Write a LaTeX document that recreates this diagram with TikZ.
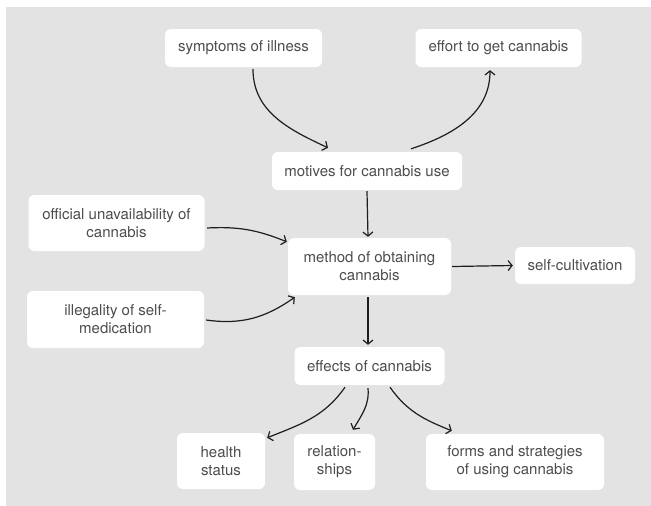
\documentclass[tikz,border=0pt]{standalone}
\usepackage{fontspec}
\setmainfont{TeX Gyre Heros}
\usepackage{xcolor}
\usepackage{tikz}
\usetikzlibrary{positioning, arrows.meta, calc}
\definecolor{canvasgray}{HTML}{E3E3E3}
\definecolor{labelgray}{HTML}{4D4D4D}
\definecolor{linkblack}{HTML}{1E1E1E}

\begin{document}
\begin{tikzpicture}[
    x=1pt, y=1pt,
    box/.style={fill=white, rounded corners=6pt, align=center, inner sep=2pt,
                font=\fontsize{15}{18}\selectfont, text=labelgray},
    arr/.style={-{Straight Barb[length=4pt,width=10pt]}, line width=1.2pt, draw=linkblack},
]
\useasboundingbox (0,0) rectangle (651,-506);
\fill[canvasgray] (6,-7) rectangle (651,-506);

\node[box, minimum width=157pt, minimum height=38pt] (sympt) at (243.5,-48) {symptoms of illness};
\node[box, minimum width=166pt, minimum height=38pt] (effort) at (498.5,-48) {effort to get cannabis};
\node[box, minimum width=190pt, minimum height=38pt] (motives) at (367,-171) {motives for cannabis use};
\node[box, minimum width=176pt, minimum height=56pt] (official) at (116.5,-223) {official unavailability of\\cannabis};
\node[box, minimum width=163pt, minimum height=57pt] (method) at (369.5,-266.5) {method of obtaining\\cannabis};
\node[box, minimum width=120pt, minimum height=37pt] (selfcult) at (575,-265.5) {self-cultivation};
\node[box, minimum width=177pt, minimum height=57pt] (illegal) at (115.5,-319.5) {illegality of self-\\medication};
\node[box, minimum width=150pt, minimum height=38pt] (effects) at (369.5,-366) {effects of cannabis};
\node[box, minimum width=88pt, minimum height=56pt] (health) at (221,-461) {health\\status};
\node[box, minimum width=81pt, minimum height=56pt] (relations) at (334.5,-462) {relation-\\ships};
\node[box, minimum width=178pt, minimum height=56pt] (forms) at (515,-462) {forms and strategies\\of using cannabis};

\draw[arr] ([xshift=9.5pt,yshift=-2pt]sympt.south) to[out=-90,in=155] ([xshift=-39pt,yshift=4pt]motives.north);
\draw[arr] ([xshift=44pt,yshift=3pt]motives.north) to[out=18,in=-90] ([xshift=-8.5pt,yshift=-3pt]effort.south);
\draw[arr] ([yshift=-1pt]motives.south) -- ([xshift=-1.5pt,yshift=1pt]method.north);
\draw[arr] ([xshift=2.5pt,yshift=-5pt]official.east) to[out=3,in=158] ([xshift=-1pt,yshift=-4pt]method.north west);
\draw[arr] ([xshift=2pt,yshift=-0.5pt]illegal.east) to[out=-8,in=215] ([xshift=7pt,yshift=-2pt]method.south west);
\draw[arr] ([xshift=1pt]method.east) -- ([xshift=-2pt]selfcult.west);
\draw[arr] ([xshift=-1.5pt,yshift=-2pt]method.south) -- ([xshift=-1.5pt,yshift=2pt]effects.north);
\draw[arr] ([xshift=-24.5pt,yshift=-2pt]effects.south) to[out=-125,in=22] ([xshift=2pt,yshift=-5pt]health.north east);
\draw[arr] ([xshift=-1.5pt,yshift=-3pt]effects.south) to[out=-85,in=60] ([xshift=18.5pt,yshift=4pt]relations.north);
\draw[arr] ([xshift=20.5pt,yshift=-2pt]effects.south) to[out=-55,in=158] ([xshift=26pt,yshift=3pt]forms.north west);
\end{tikzpicture}
\end{document}
